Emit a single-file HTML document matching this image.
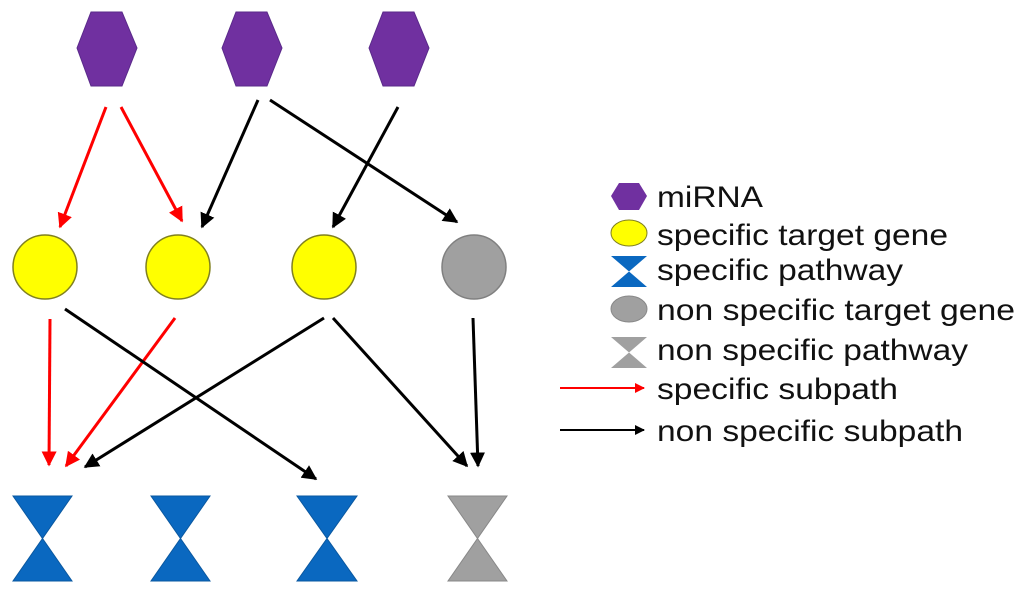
<!DOCTYPE html>
<html><head><style>body{margin:0;background:#fff}svg{display:block}text{font-family:"Liberation Sans",sans-serif;font-size:30px;fill:#111}</style></head><body>
<svg width="1029" height="594" viewBox="0 0 1029 594" xmlns="http://www.w3.org/2000/svg">
<defs>
<marker id="ar" viewBox="0 0 10 10" refX="9" refY="5" markerWidth="5" markerHeight="5" orient="auto"><path d="M0,0L10,5L0,10z" fill="#f00"/></marker>
<marker id="ak" viewBox="0 0 10 10" refX="9" refY="5" markerWidth="5" markerHeight="5" orient="auto"><path d="M0,0L10,5L0,10z" fill="#000"/></marker>
</defs>
<g fill="#7030a0" stroke="#5a2a8a" stroke-width="1">
<polygon points="77,48 91,12 122,12 137,48 122,86 91,86"/>
<polygon points="222,48 236,12 267,12 282,48 267,86 236,86"/>
<polygon points="369,48 383,12 414,12 429,48 414,86 383,86"/>
</g>
<g stroke="#808020" stroke-width="1.5" fill="#ffff00">
<circle cx="45" cy="267" r="32"/><circle cx="178" cy="267" r="32"/><circle cx="324" cy="267" r="32"/>
</g>
<circle cx="474" cy="267" r="32" fill="#a0a0a0" stroke="#808080" stroke-width="1.5"/>
<g fill="#0a68c0" stroke="#0a58a0" stroke-width="1">
<polygon points="13,496 72,496 13,581 72,581"/>
<polygon points="151,496 210,496 151,581 210,581"/>
<polygon points="297,496 357,496 297,581 357,581"/>
</g>
<polygon points="448,496 507,496 448,581 507,581" fill="#a0a0a0" stroke="#888" stroke-width="1"/>
<g stroke="#f00" stroke-width="3" marker-end="url(#ar)">
<line x1="106" y1="107" x2="60" y2="227"/>
<line x1="121" y1="107" x2="182" y2="221"/>
<line x1="50" y1="319" x2="49" y2="465"/>
<line x1="175" y1="318" x2="66" y2="466"/>
</g>
<g stroke="#000" stroke-width="3" marker-end="url(#ak)">
<line x1="258" y1="100" x2="202" y2="227"/>
<line x1="270" y1="100" x2="457" y2="222"/>
<line x1="398" y1="107" x2="333" y2="227"/>
<line x1="324" y1="318" x2="85" y2="467"/>
<line x1="65" y1="309" x2="316" y2="479"/>
<line x1="333" y1="318" x2="467" y2="466"/>
<line x1="473" y1="318" x2="478" y2="466"/>
</g>
<polygon points="611,196 619,183 639,183 647,196 639,210 619,210" fill="#7030a0"/>
<ellipse cx="629" cy="233" rx="18" ry="13" fill="#ffff00" stroke="#808020"/>
<polygon points="611,256 647,256 611,287 647,287" fill="#0a68c0"/>
<ellipse cx="629" cy="309" rx="18" ry="13" fill="#a0a0a0" stroke="#888"/>
<polygon points="611,337 647,337 611,368 647,368" fill="#a0a0a0"/>
<line x1="560" y1="388" x2="644" y2="388" stroke="#f00" stroke-width="2" marker-end="url(#ar)"/>
<line x1="560" y1="430" x2="644" y2="430" stroke="#000" stroke-width="2" marker-end="url(#ak)"/>
<text x="657" y="207" textLength="106" lengthAdjust="spacingAndGlyphs">miRNA</text>
<text x="657" y="245" textLength="291" lengthAdjust="spacingAndGlyphs">specific target gene</text>
<text x="657" y="280" textLength="246" lengthAdjust="spacingAndGlyphs">specific pathway</text>
<text x="657" y="320" textLength="358" lengthAdjust="spacingAndGlyphs">non specific target gene</text>
<text x="657" y="360" textLength="311" lengthAdjust="spacingAndGlyphs">non specific pathway</text>
<text x="657" y="399" textLength="241" lengthAdjust="spacingAndGlyphs">specific subpath</text>
<text x="657" y="441" textLength="306" lengthAdjust="spacingAndGlyphs">non specific subpath</text>
</svg>
</body></html>
